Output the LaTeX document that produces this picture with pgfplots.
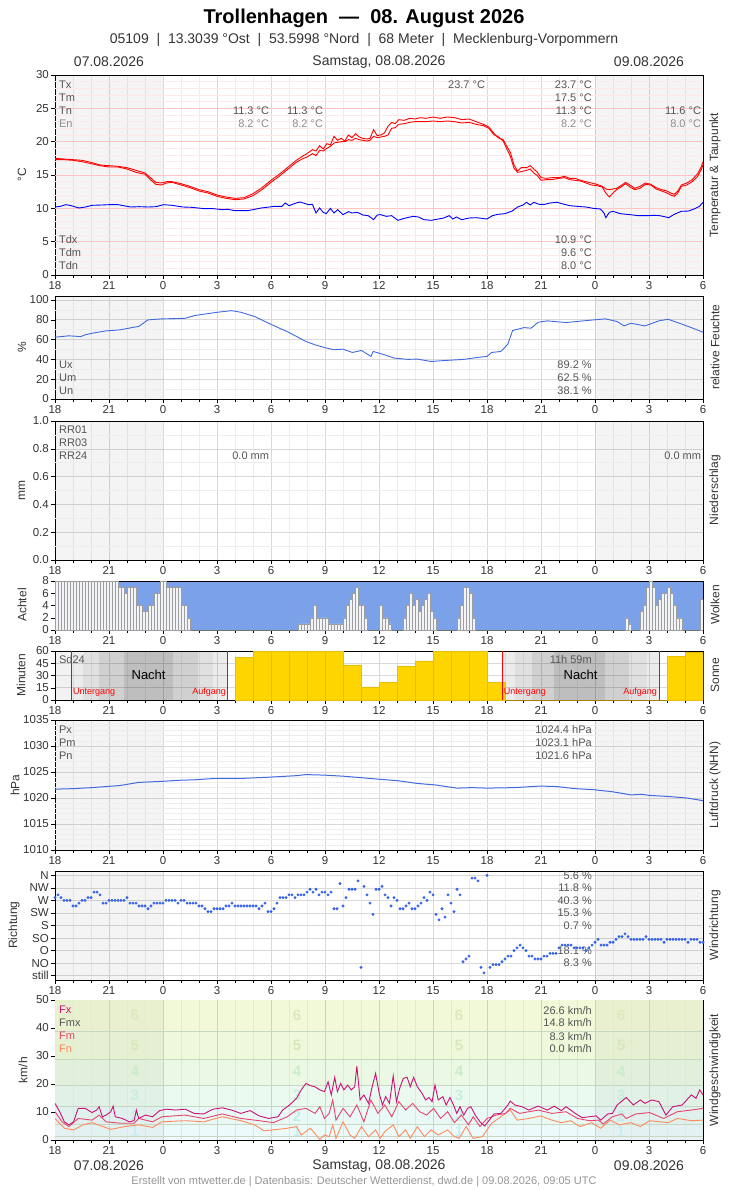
\documentclass[border=0pt]{standalone}
\usepackage{fontspec}
\setmainfont{Liberation Sans}
\setsansfont{Liberation Sans}
\usepackage{pgfplots}
\pgfplotsset{compat=1.18}
\newcommand\fs[1]{\fontsize{#1}{#1}\selectfont}

\definecolor{gmaj}{HTML}{D9D9D9}
\definecolor{gmin}{HTML}{EDEDED}
\definecolor{pmaj}{HTML}{FFC4C4}
\definecolor{pmin}{HTML}{FFE8E8}
\definecolor{txt}{HTML}{555555}
\definecolor{lab}{HTML}{333333}
\definecolor{royal}{HTML}{4169E1}
\definecolor{dotblue}{HTML}{3462E8}
\definecolor{cloudblue}{HTML}{7BA2E8}
\definecolor{cloudbar}{HTML}{F2F4F7}
\definecolor{sun}{HTML}{FFD500}
\definecolor{sunedge}{HTML}{E8BE00}
\definecolor{fxc}{HTML}{CC1177}
\definecolor{fmc}{HTML}{E8456E}
\definecolor{fnc}{HTML}{FF8A5C}
\definecolor{bz}{HTML}{F0FAFC}
\definecolor{bi}{HTML}{EDFAFA}
\definecolor{bii}{HTML}{E9F9F5}
\definecolor{biii}{HTML}{EAFAEF}
\definecolor{biv}{HTML}{EBF9E4}
\definecolor{bv}{HTML}{EEF8DA}
\definecolor{bvi}{HTML}{F2F9D8}
\definecolor{bline}{HTML}{C6D8C4}
\definecolor{vmaj}{HTML}{CFCFCF}
\definecolor{vmin}{HTML}{E2E6E2}
\definecolor{ki}{HTML}{C8EEF4}
\definecolor{kii}{HTML}{C4ECE4}
\definecolor{kiii}{HTML}{C6EEDC}
\definecolor{kiv}{HTML}{C8ECCC}
\definecolor{kv}{HTML}{D8E8BC}
\definecolor{kvi}{HTML}{DDE8BE}

% shaded time span (translucent, so the grid stays visible)
\newcommand\tspan[4]{\addplot[ybar interval, fill=black, fill opacity=#4, draw=none, forget plot] coordinates {(#1,#3)(#2,#3)};}
% opaque band from 0 up to #3
\newcommand\bandfill[4]{\addplot[ybar interval, fill=#4, draw=none, forget plot] coordinates {(#1,#3)(#2,#3)};}
% horizontal reference line
\newcommand\refline[3]{\addplot[#3, line width=0.5pt, forget plot] coordinates {(0,#1)(#2,#1)};}
% vertical hour line
\newcommand\hourline[3]{\addplot[#3, line width=0.55pt, forget plot] coordinates {(#1,0)(#1,#2)};}

\tikzset{
  leg/.style={anchor=west, font=\fs{11}, text=txt, inner sep=0pt},
  val/.style={anchor=east, font=\fs{11}, text=txt, inner sep=0pt},
  bft/.style={font=\fs{15}\bfseries},
}
\pgfplotsset{
  panel/.style={
    scale only axis, width=648pt,
    xmin=0, xmax=36,
    xtick={0,3,...,36},
    xticklabels={18,21,0,3,6,9,12,15,18,21,0,3,6},
    minor xtick={0,1,...,36},
    tick align=outside, xtick pos=left, ytick pos=left,
    major tick length=4pt, minor tick length=2.5pt,
    tick style={black, line width=0.5pt},
    ticklabel style={font=\fs{11.5}, text=lab},
    xticklabel style={anchor=north, inner sep=1.5pt, text height=8.3pt, text depth=0pt},
    yticklabel style={inner sep=2pt},
    grid=both,
    major grid style={draw=gmaj, line width=0.6pt},
    minor grid style={draw=gmin, line width=0.5pt},
    axis line style={black, line width=0.8pt},
    /pgf/number format/assume math mode=true,
    /pgf/number format/1000 sep={},
  },
  tenmin/.style={
    xmin=0, xmax=216,
    xtick={0,18,...,216},
    minor xtick={0,6,...,216},
  },
}

\begin{document}
\begin{tikzpicture}
\useasboundingbox (0,0) rectangle (728pt,-1190pt);

% header
\node[font=\fs{20}\bfseries] at (364pt,-18pt) {Trollenhagen~~—~~08. August 2026};
\node[font=\fs{14}, text=lab] at (364pt,-40pt) {05109~~|~~13.3039 °Ost~~|~~53.5998 °Nord~~|~~68 Meter~~|~~Mecklenburg-Vorpommern};
\foreach \yy in {62,1166} {
  \node[font=\fs{14}, text=lab] at (109pt,-\yy pt) {07.08.2026};
  \node[font=\fs{14}, text=lab] at (379pt,-\yy pt) {Samstag, 08.08.2026};
  \node[font=\fs{14}, text=lab] at (649pt,-\yy pt) {09.08.2026};
}
\node[font=\fs{11}, text=black!42] at (364pt,-1182pt) {Erstellt von mtwetter.de | Datenbasis: Deutscher Wetterdienst, dwd.de | 09.08.2026, 09:05 UTC};

% side labels
\foreach \xx/\yy/\lbl in {22/175/°C, 22/347/\%, 22/490/mm, 22/605/Achtel, 21/675/Minuten, 15/785/hPa, 14/925/Richtung, 23/1070/{km/h}}
  \node[rotate=90, font=\fs{12}, text=lab] at (\xx pt,-\yy pt) {\lbl};
\foreach \yy/\lbl in {175/Temperatur \& Taupunkt, 347/relative Feuchte, 490/Niederschlag, 605/Wolken, 675/Sonne, 785/Luftdruck (NHN), 925/Windrichtung, 1070/Windgeschwindigkeit}
  \node[rotate=90, font=\fs{12}, text=lab] at (715pt,-\yy pt) {\lbl};

%================ temperature
\begin{axis}[panel, at={(55pt,-275pt)}, anchor=south west, height=200pt,
  ymin=0, ymax=30, ytick={0,5,...,30}, ymajorgrids=false]
\tspan{0}{6}{30}{0.045}
\tspan{30}{36}{30}{0.045}
\pgfplotsinvokeforeach{1,2,3,4,6,7,8,9,11,12,13,14,16,17,18,19,21,22,23,24,26,27,28,29}{\refline{#1}{36}{pmin}}
\pgfplotsinvokeforeach{5,10,15,20,25}{\refline{#1}{36}{pmaj}}
\addplot[red, line width=0.9pt] coordinates {
(0,17.5)(0.5,17.4)(1,17.3)(1.5,17.2)(2,16.9)(2.5,16.5)(3,16.4)(3.5,16.3)(4,16.1)(4.5,15.7)
(5,15.3)(5.3,14.6)(5.6,13.9)(5.9,13.8)(6.2,14.0)(6.5,14.0)(7,13.7)(7.5,13.3)(8,12.8)(8.5,12.5)
(9,12.0)(9.5,11.7)(10,11.5)(10.5,11.6)(11,12.2)(11.5,13.1)(12,14.2)(12.5,15.2)(13,16.3)(13.4,17.2)
(13.8,17.9)(14,18.2)(14.3,18.8)(14.5,18.6)(14.7,19.4)(14.9,18.9)(15.1,19.7)(15.3,19.5)(15.5,20.8)(15.7,20.2)
(15.9,20.5)(16.1,20.1)(16.3,21.0)(16.5,20.6)(16.7,21.2)(16.9,20.7)(17.1,20.5)(17.3,20.4)(17.5,20.5)(17.7,21.8)
(17.9,20.9)(18.1,21.0)(18.3,21.3)(18.5,22.3)(18.7,22.9)(18.9,22.7)(19.1,23.3)(19.4,23.2)(19.7,23.5)(20,23.4)
(20.3,23.6)(20.6,23.5)(21,23.7)(21.4,23.5)(21.8,23.7)(22.2,23.6)(22.6,23.3)(23,23.4)(23.4,23.0)(23.8,22.6)
(24.1,22.2)(24.4,21.2)(24.6,20.6)(24.9,20.3)(25.1,19.3)(25.3,18.4)(25.5,16.5)(25.7,15.6)(25.9,16.1)(26.2,16.1)
(26.4,16.4)(26.6,15.9)(26.8,15.4)(27,14.6)(27.3,14.5)(27.6,14.6)(28,14.6)(28.3,14.8)(28.6,14.5)(28.9,14.5)
(29.2,14.2)(29.5,14.0)(29.8,13.8)(30.1,13.6)(30.4,13.3)(30.6,12.9)(30.8,12.8)(31,12.9)(31.2,13.0)(31.5,13.5)
(31.7,13.9)(32,13.4)(32.2,13.0)(32.5,13.3)(32.8,13.8)(33.1,13.6)(33.4,13.1)(33.7,12.8)(34,12.6)(34.2,12.3)
(34.4,12.1)(34.6,12.6)(34.8,13.5)(35.1,13.8)(35.4,14.3)(35.7,15.2)(35.9,16.2)(36,17.0)};
\addplot[red, line width=0.9pt] coordinates {
(0,17.3)(0.5,17.3)(1,17.2)(1.5,17.0)(2,16.7)(2.5,16.4)(3,16.2)(3.5,16.2)(4,15.9)(4.5,15.4)
(5,15.1)(5.3,14.3)(5.6,13.6)(5.9,13.5)(6.2,13.8)(6.5,13.9)(7,13.5)(7.5,13.1)(8,12.6)(8.5,12.3)
(9,11.8)(9.5,11.5)(10,11.3)(10.5,11.4)(11,11.9)(11.5,12.8)(12,13.9)(12.5,14.9)(13,16.0)(13.4,16.9)
(13.8,17.5)(14,17.7)(14.3,18.2)(14.5,17.9)(14.7,18.7)(14.9,18.6)(15.1,19.0)(15.3,19.3)(15.5,19.8)(15.7,19.9)
(15.9,20.0)(16.1,20.0)(16.3,20.3)(16.5,20.2)(16.7,20.5)(16.9,20.3)(17.1,20.2)(17.3,20.1)(17.5,20.2)(17.7,20.8)
(17.9,20.6)(18.1,20.7)(18.3,20.8)(18.5,21.0)(18.7,22.0)(18.9,22.1)(19.1,22.6)(19.4,22.7)(19.7,22.9)(20,23.0)
(20.3,23.0)(20.6,23.0)(21,23.1)(21.4,23.0)(21.8,23.1)(22.2,23.0)(22.6,22.8)(23,22.9)(23.4,22.6)(23.8,22.4)
(24.1,22.0)(24.4,21.0)(24.6,20.8)(24.9,20.1)(25.1,18.9)(25.3,17.8)(25.5,16.0)(25.7,15.4)(25.9,15.5)(26.2,15.7)
(26.4,15.9)(26.6,15.3)(26.8,14.9)(27,14.2)(27.3,14.3)(27.6,14.3)(28,14.5)(28.3,14.6)(28.6,14.3)(28.9,14.2)
(29.2,14.1)(29.5,13.8)(29.8,13.5)(30.1,13.4)(30.4,13.2)(30.6,12.3)(30.8,11.7)(31,12.3)(31.2,12.8)(31.5,13.3)
(31.7,13.7)(32,13.1)(32.2,12.8)(32.5,13.0)(32.8,13.6)(33.1,13.5)(33.4,12.9)(33.7,12.6)(34,12.3)(34.2,12.0)
(34.4,11.8)(34.6,12.3)(34.8,13.3)(35.1,13.5)(35.4,14.0)(35.7,14.8)(35.9,15.8)(36,16.5)};
\addplot[blue, line width=0.9pt] coordinates {
(0,10.2)(0.3,10.3)(0.6,10.55)(0.9,10.4)(1.33,10.05)(1.7,10.2)(2.05,10.45)(2.6,10.5)(3,10.55)(3.5,10.55)
(3.8,10.4)(4.2,10.2)(4.7,10.25)(5.2,10.2)(5.6,10.25)(6.03,10.55)(6.5,10.45)(7.1,10.2)(7.6,10.15)(8.3,9.95)
(8.8,9.95)(9.3,9.8)(9.6,9.85)(10,9.65)(10.7,9.65)(11,9.8)(11.45,10.05)(12.2,10.3)(12.6,10.3)(12.8,10.8)
(13,10.4)(13.4,10.8)(13.6,10.95)(14.1,10.55)(14.3,10.6)(14.5,9.3)(14.7,10.05)(14.9,9.4)(15.07,9.2)(15.3,10.0)
(15.5,9.3)(15.7,9.8)(16,9.05)(16.3,9.5)(16.5,9.3)(16.8,9.4)(17.1,9.0)(17.4,8.9)(17.7,8.3)(17.9,9.0)
(18.1,9.05)(18.4,8.8)(18.7,8.9)(19.05,8.2)(19.4,8.5)(19.9,8.8)(20.2,8.7)(20.5,8.3)(20.9,8.2)(21.3,8.4)
(21.6,8.55)(21.9,8.9)(22.1,8.4)(22.3,8.7)(22.6,8.3)(23,8.55)(23.4,8.6)(23.7,8.5)(24,8.4)(24.3,8.9)
(24.6,9.1)(25,9.2)(25.4,9.6)(25.7,10.2)(26,10.5)(26.2,10.9)(26.4,10.5)(26.6,10.9)(26.9,10.6)(27.2,10.6)
(27.5,10.8)(27.9,10.9)(28.3,10.6)(28.6,10.4)(29,10.3)(29.5,10.2)(29.9,10.0)(30.3,9.9)(30.5,9.3)(30.6,8.6)
(30.8,9.4)(31,9.55)(31.4,9.2)(31.95,9.05)(32.4,8.9)(32.9,8.9)(33.3,8.95)(33.6,8.9)(34.1,8.6)(34.4,9.1)
(34.8,9.55)(35.2,9.6)(35.5,9.9)(35.8,10.3)(36,10.9)};
\node[leg] at (axis cs:0.22,28.5) {Tx};
\node[leg] at (axis cs:0.22,26.55) {Tm};
\node[leg] at (axis cs:0.22,24.6) {Tn};
\node[leg, text=black!45] at (axis cs:0.22,22.65) {En};
\node[val] at (axis cs:23.9,28.5) {23.7 °C};
\node[val] at (axis cs:29.83,28.5) {23.7 °C};
\node[val] at (axis cs:29.83,26.55) {17.5 °C};
\node[val] at (axis cs:11.9,24.6) {11.3 °C};
\node[val] at (axis cs:14.9,24.6) {11.3 °C};
\node[val] at (axis cs:29.83,24.6) {11.3 °C};
\node[val] at (axis cs:35.9,24.6) {11.6 °C};
\node[val, text=black!45] at (axis cs:11.9,22.65) {8.2 °C};
\node[val, text=black!45] at (axis cs:14.9,22.65) {8.2 °C};
\node[val, text=black!45] at (axis cs:29.83,22.65) {8.2 °C};
\node[val, text=black!45] at (axis cs:35.9,22.65) {8.0 °C};
\node[leg] at (axis cs:0.22,5.25) {Tdx};
\node[leg] at (axis cs:0.22,3.3) {Tdm};
\node[leg] at (axis cs:0.22,1.35) {Tdn};
\node[val] at (axis cs:29.83,5.25) {10.9 °C};
\node[val] at (axis cs:29.83,3.3) {9.6 °C};
\node[val] at (axis cs:29.83,1.35) {8.0 °C};
\end{axis}

%================ humidity
\begin{axis}[panel, at={(55pt,-399pt)}, anchor=south west, height=103pt,
  ymin=0, ymax=104, ytick={0,20,...,100}]
\tspan{0}{6}{104}{0.045}
\tspan{30}{36}{104}{0.045}
\pgfplotsinvokeforeach{10,30,50,70,90}{\refline{#1}{36}{gmin}}
\addplot[royal, line width=0.9pt] coordinates {
(0,62.4)(0.77,63.8)(1.42,63.0)(1.68,64.8)(2.06,66.4)(2.84,68.8)(3.61,69.8)(4.39,72.5)(4.65,73.2)(5.16,79.9)
(5.94,80.9)(7.23,81.5)(7.74,84.2)(8.26,85.6)(9.03,87.6)(9.81,89.2)(10.32,87.6)(11.1,83.2)(11.87,76.5)(12.39,72.1)
(12.9,68.1)(13.42,63.1)(13.94,58.1)(14.45,54.7)(14.97,52.0)(15.48,49.7)(16,50.3)(16.52,47.0)(17.03,49.0)(17.55,43.0)
(17.68,48.0)(18.32,44.6)(18.84,41.3)(19.61,40.0)(20.13,40.3)(20.9,37.9)(21.68,38.9)(22.71,40.0)(23.48,42.0)(24,43.0)
(24.26,47.0)(24.77,48.0)(25.16,55.4)(25.42,69.1)(26.06,72.1)(26.45,71.5)(26.84,77.5)(27.35,78.9)(28.39,77.2)(29.94,79.9)
(30.58,80.9)(31.23,78.2)(31.61,73.8)(32,76.5)(32.77,73.8)(33.55,78.9)(34.06,80.5)(34.84,75.5)(35.35,72.1)(36,67.4)};
\node[leg] at (axis cs:0.22,34.3) {Ux};
\node[leg] at (axis cs:0.22,21.2) {Um};
\node[leg] at (axis cs:0.22,8.1) {Un};
\node[val] at (axis cs:29.83,34.3) {89.2 \%};
\node[val] at (axis cs:29.83,21.2) {62.5 \%};
\node[val] at (axis cs:29.83,8.1) {38.1 \%};
\end{axis}

%================ precipitation
\begin{axis}[panel, at={(55pt,-560pt)}, anchor=south west, height=139pt,
  ymin=0, ymax=1, ytick={0,0.2,0.4,0.6,0.8,1},
  yticklabel style={/pgf/number format/.cd, fixed, fixed zerofill, precision=1}]
\tspan{0}{6}{1}{0.045}
\tspan{30}{36}{1}{0.045}
\pgfplotsinvokeforeach{0.1,0.3,0.5,0.7,0.9}{\refline{#1}{36}{gmin}}
\node[leg] at (axis cs:0.22,0.935) {RR01};
\node[leg] at (axis cs:0.22,0.842) {RR03};
\node[leg] at (axis cs:0.22,0.748) {RR24};
\node[val] at (axis cs:11.9,0.748) {0.0 mm};
\node[val] at (axis cs:35.9,0.748) {0.0 mm};
\end{axis}

%================ clouds (x in 10-minute steps)
\begin{axis}[panel, tenmin, at={(55pt,-630pt)}, anchor=south west, height=49pt,
  ymin=0, ymax=8, ytick={0,2,4,6,8}, grid=none,
  axis background/.style={fill=cloudblue}]
\addplot[ybar interval, fill=cloudbar, draw=black!38, line width=0.4pt] coordinates {
(0,8)(1,8)(2,8)(3,8)(4,8)(5,8)(6,8)(7,8)(8,8)(9,8)(10,8)(11,8)(12,8)(13,8)(14,8)(15,8)(16,8)(17,8)(18,8)(19,8)(20,8)
(21,7)(22,7)(23,6)(24,7)(25,7)(26,7)(27,4)(28,4)(29,3)(30,3)(31,4)(32,4)(33,6)(34,6)(35,8)(36,8)(37,7)(38,7)(39,7)(40,7)(41,7)(42,4)(43,4)(44,2)
(45,0)(81,1)(82,1)(83,1)(84,1)(85,2)(86,4)(87,2)(88,2)(89,2)(90,2)(91,1)(92,1)(93,1)(94,1)(95,1)
(96,2)(97,4)(98,5)(99,6)(100,7)(101,4)(102,4)(103,2)(104,0)(108,4)(109,2)(110,2)(111,1)(112,0)
(116,2)(117,4)(118,6)(119,4)(120,5)(121,3)(122,4)(123,5)(124,6)(125,3)(126,2)(127,0)
(134,2)(135,4)(136,7)(137,7)(138,6)(139,2)(140,0)(190,2)(191,1)(192,0)
(195,3)(196,4)(197,7)(198,8)(199,7)(200,4)(201,5)(202,6)(203,6)(204,7)(205,6)(206,4)(207,2)(208,2)(209,0)
(215,5)(216,5)};
\end{axis}

%================ sunshine
\begin{axis}[panel, at={(55pt,-700pt)}, anchor=south west, height=49pt,
  ymin=0, ymax=60, ytick={0,15,30,45,60}]
\tspan{0}{0.9}{60}{0.05}
\tspan{0.9}{1.55}{60}{0.075}
\tspan{1.55}{2.45}{60}{0.12}
\tspan{2.45}{3.81}{60}{0.185}
\tspan{3.81}{6.58}{60}{0.255}
\tspan{6.58}{7.95}{60}{0.185}
\tspan{7.95}{8.77}{60}{0.12}
\tspan{8.77}{9.6}{60}{0.075}
\tspan{24.83}{25.55}{60}{0.075}
\tspan{25.55}{26.5}{60}{0.12}
\tspan{26.5}{27.74}{60}{0.185}
\tspan{27.74}{30.58}{60}{0.255}
\tspan{30.58}{31.87}{60}{0.185}
\tspan{31.87}{32.9}{60}{0.12}
\tspan{32.9}{33.55}{60}{0.075}
\addplot[ybar interval, fill=sun, draw=sunedge, line width=0.5pt] coordinates {
(10,52)(11,60)(12,60)(13,60)(14,60)(15,60)(16,43)(17,16)(18,22)(19,41)(20,48)(21,60)(22,60)(23,60)
(24,22)(25,0)(34,53)(35,58)(36,58)};
\addplot[red, line width=0.8pt] coordinates {(0.9,0)(0.9,60)};
\addplot[red, line width=0.8pt] coordinates {(9.6,0)(9.6,60)};
\addplot[red, line width=0.8pt] coordinates {(24.83,0)(24.83,60)};
\addplot[red, line width=0.8pt] coordinates {(33.55,0)(33.55,60)};
\node[leg] at (axis cs:0.22,49) {Sd24};
\node[val] at (axis cs:29.83,49) {11h 59m};
\node[font=\fs{13}] at (axis cs:5.2,30.6) {Nacht};
\node[font=\fs{13}] at (axis cs:29.2,30.6) {Nacht};
\node[anchor=west, font=\fs{9}, text=red, inner sep=0pt] at (axis cs:1.0,9.8) {Untergang};
\node[anchor=east, font=\fs{9}, text=red, inner sep=0pt] at (axis cs:9.5,9.8) {Aufgang};
\node[anchor=west, font=\fs{9}, text=red, inner sep=0pt] at (axis cs:24.93,9.8) {Untergang};
\node[anchor=east, font=\fs{9}, text=red, inner sep=0pt] at (axis cs:33.45,9.8) {Aufgang};
\end{axis}

%================ pressure
\begin{axis}[panel, at={(55pt,-850pt)}, anchor=south west, height=130pt,
  ymin=1010, ymax=1035, ytick={1010,1015,...,1035}]
\tspan{0}{6}{1035}{0.045}
\tspan{30}{36}{1035}{0.045}
\pgfplotsinvokeforeach{1011,1012,1013,1014,1016,1017,1018,1019,1021,1022,1023,1024,1026,1027,1028,1029,1031,1032,1033,1034}{\refline{#1}{36}{gmin}}
\addplot[royal, line width=1pt] coordinates {
(0,1021.7)(1,1021.8)(2.06,1022.0)(3.61,1022.4)(4.65,1023.0)(5.94,1023.2)(6.8,1023.4)(7.74,1023.5)(9.03,1023.8)(10.58,1023.8)
(11.87,1024.0)(13.42,1024.3)(13.94,1024.5)(14.97,1024.4)(16,1024.2)(17.03,1023.9)(18.06,1023.6)(19.1,1023.3)(20.13,1022.8)(21.16,1022.5)
(22.32,1021.9)(23.2,1022.0)(24,1021.9)(25.55,1022.0)(26.97,1022.3)(27.87,1022.2)(28.9,1021.8)(29.94,1021.6)(30.97,1021.2)(32,1020.6)
(32.6,1020.7)(33.03,1020.5)(34.06,1020.3)(35.1,1020.0)(36,1019.5)};
\node[leg] at (axis cs:0.22,1033.1) {Px};
\node[leg] at (axis cs:0.22,1030.6) {Pm};
\node[leg] at (axis cs:0.22,1028.1) {Pn};
\node[val] at (axis cs:29.83,1033.1) {1024.4 hPa};
\node[val] at (axis cs:29.83,1030.6) {1023.1 hPa};
\node[val] at (axis cs:29.83,1028.1) {1021.6 hPa};
\end{axis}

%================ wind direction (x in 10-minute steps)
\begin{axis}[panel, tenmin, at={(55pt,-980pt)}, anchor=south west, height=109pt,
  ymin=-15.4, ymax=375.4, ytick={0,45,...,360},
  yticklabels={still,NO,O,SO,S,SW,W,NW,N}]
\tspan{0}{36}{375.4}{0.045}
\tspan{0}{36}{-15.4}{0.045}
\tspan{180}{216}{375.4}{0.045}
\tspan{180}{216}{-15.4}{0.045}
\addplot[only marks, mark=*, mark size=1.25pt, dotblue, mark options={draw=none, fill=dotblue}] coordinates {
(0,280)(1,290)(2,280)(3,270)(4,270)(5,270)(6,250)(7,250)(8,260)(9,270)
(10,270)(11,280)(12,280)(13,300)(14,300)(15,290)(16,260)(17,260)(18,270)(19,270)
(20,270)(21,270)(22,270)(23,270)(24,280)(25,260)(26,260)(27,260)(28,250)(29,250)
(30,250)(31,240)(32,250)(33,260)(34,260)(35,260)(36,260)(37,270)(38,270)(39,270)
(40,270)(41,260)(42,270)(43,270)(44,260)(45,260)(46,260)(47,260)(48,250)(49,250)
(50,240)(51,230)(52,230)(53,240)(54,240)(55,240)(56,240)(57,250)(58,250)(59,260)
(60,250)(61,250)(62,250)(63,250)(64,250)(65,250)(66,250)(67,250)(68,240)(69,250)
(70,260)(71,230)(72,230)(73,240)(74,260)(75,280)(76,280)(77,280)(78,290)(79,290)
(80,280)(81,290)(82,290)(83,290)(84,300)(85,310)(86,300)(87,310)(88,290)(89,300)
(90,300)(91,290)(92,300)(93,240)(94,240)(95,330)(96,250)(97,280)(98,310)(99,310)
(100,310)(101,340)(102,30)(103,320)(104,290)(105,260)(106,220)(107,310)(108,310)(109,320)
(110,290)(111,280)(112,250)(113,280)(114,270)(115,240)(116,240)(117,250)(118,260)(119,240)
(120,240)(121,250)(122,260)(123,280)(124,270)(125,300)(126,290)(127,220)(128,200)(129,240)
(130,210)(131,290)(132,260)(133,230)(134,310)(135,290)(136,50)(137,60)(138,70)(139,350)
(140,350)(141,340)(142,30)(143,10)(144,360)(145,30)(146,40)(147,40)(148,40)(149,50)
(150,60)(151,70)(152,70)(153,90)(154,100)(155,110)(156,100)(157,90)(158,70)(159,70)
(160,60)(161,60)(162,60)(163,70)(164,70)(165,80)(166,80)(167,80)(168,100)(169,110)
(170,110)(171,110)(172,110)(173,100)(174,100)(175,100)(176,100)(177,90)(178,100)(179,110)
(180,120)(181,130)(182,110)(183,110)(184,110)(185,120)(186,120)(187,130)(188,140)(189,140)
(190,150)(191,140)(192,130)(193,130)(194,130)(195,130)(196,130)(197,140)(198,130)(199,130)
(200,130)(201,130)(202,130)(203,120)(204,130)(205,130)(206,130)(207,130)(208,130)(209,130)
(210,130)(211,120)(212,130)(213,130)(214,130)(215,120)(216,120)};
\node[val] at (axis cs:179,360) {5.6 \%};
\node[val] at (axis cs:179,315) {11.8 \%};
\node[val] at (axis cs:179,270) {40.3 \%};
\node[val] at (axis cs:179,225) {15.3 \%};
\node[val] at (axis cs:179,180) {0.7 \%};
\node[val] at (axis cs:179,90) {18.1 \%};
\node[val] at (axis cs:179,45) {8.3 \%};
\end{axis}

%================ wind speed
\begin{axis}[panel, at={(55pt,-1140pt)}, anchor=south west, height=140pt,
  ymin=0, ymax=50, ytick={0,10,...,50}, grid=none]
\bandfill{0}{36}{50}{bvi}
\bandfill{0}{36}{39}{bv}
\bandfill{0}{36}{28.8}{biv}
\bandfill{0}{36}{19.6}{biii}
\bandfill{0}{36}{12.1}{bii}
\bandfill{0}{36}{5.6}{bi}
\bandfill{0}{36}{1.2}{bz}
\tspan{0}{6}{50}{0.035}
\tspan{30}{36}{50}{0.035}
\pgfplotsinvokeforeach{1,2,4,5,7,8,10,11,13,14,16,17,19,20,22,23,25,26,28,29,31,32,34,35}{\hourline{#1}{50}{vmin}}
\pgfplotsinvokeforeach{3,6,9,12,15,18,21,24,27,30,33}{\hourline{#1}{50}{vmaj}}
\pgfplotsinvokeforeach{1.2,5.6,12.1,19.6,28.8,39}{\refline{#1}{36}{bline}}
\pgfplotsinvokeforeach{4.44,13.44,22.44,31.44}{
  \node[bft, text=kvi] at (axis cs:#1,44.6) {6};
  \node[bft, text=kv] at (axis cs:#1,33.9) {5};
  \node[bft, text=kiv] at (axis cs:#1,24.4) {4};
  \node[bft, text=kiii] at (axis cs:#1,16.1) {3};
  \node[bft, text=kii] at (axis cs:#1,8.6) {2};
  \node[bft, text=ki] at (axis cs:#1,3.0) {1};
}
\addplot[fnc, line width=0.9pt] coordinates {
(0,7.7)(0.52,4.2)(1.03,3.6)(1.55,5.4)(2.06,6.2)(2.58,5.0)(3.1,3.8)(3.87,4.8)(4.65,5.4)(5.42,4.5)
(5.94,6.5)(7.23,6.9)(8.26,6.5)(9.29,8.3)(10.32,6.9)(11.1,5.4)(11.61,3.3)(12.39,3.8)(12.9,4.2)(13.42,4.8)
(13.68,1.8)(14.19,4.2)(14.71,0.2)(14.97,1.8)(15.23,1.2)(15.43,5.4)(15.61,0.6)(16,6.5)(16.39,1.8)(16.65,0.6)
(17.03,4.8)(17.42,1.2)(17.81,3.6)(18.06,0.6)(18.32,3.0)(18.79,5.4)(19.1,1.2)(19.48,3.6)(19.74,0.6)(20.13,4.8)
(20.52,1.2)(20.9,3.6)(21.29,1.8)(21.81,3.6)(22.19,1.2)(22.45,0.6)(22.84,4.8)(23.23,0.6)(23.74,1.2)(24.26,6.0)
(24.77,8.3)(25.29,10.7)(25.68,7.1)(26.32,7.7)(26.97,8.6)(27.61,7.1)(28.13,6.2)(28.65,6.9)(29.16,4.8)(29.81,6.2)
(30.32,4.2)(30.84,7.1)(31.35,5.4)(32,6.2)(32.52,4.8)(33.03,6.9)(34.06,6.2)(34.58,7.7)(35.35,6.9)(36,7.1)};
\addplot[fmc, line width=0.9pt] coordinates {
(0,10.1)(0.39,6.5)(0.77,4.8)(1.29,7.7)(2.06,7.1)(2.45,8.9)(2.84,6.5)(3.61,6.0)(4.39,6.0)(4.65,7.7)
(5.42,6.5)(5.94,8.3)(7.23,8.9)(8.26,7.7)(9.29,9.3)(10.32,7.7)(11.35,6.9)(12.13,6.2)(12.9,8.3)(13.42,10.7)
(13.94,11.3)(14.45,9.5)(14.71,11.9)(14.97,7.7)(15.23,9.5)(15.43,14.3)(15.61,7.1)(16,11.3)(16.39,8.3)(16.77,12.5)
(17.16,6.5)(17.55,14.3)(17.94,9.5)(18.32,12.5)(18.71,8.3)(19.1,13.7)(19.48,10.7)(19.87,13.1)(20.26,10.1)(20.65,8.9)
(21.03,11.3)(21.42,7.7)(21.81,10.1)(22.19,6.2)(22.58,8.9)(22.97,5.4)(23.23,8.3)(23.61,4.8)(24,7.7)(24.52,8.9)
(25.03,9.5)(25.29,11.3)(25.81,9.5)(26.84,10.7)(27.61,9.5)(28.39,10.1)(29.03,7.7)(29.68,6.9)(30.19,7.1)(30.45,5.7)
(30.97,8.3)(31.48,9.3)(31.74,7.7)(32.26,9.3)(33.03,9.8)(33.81,7.7)(34.58,10.1)(35.35,10.7)(36,11.3)};
\addplot[fxc, line width=0.9pt] coordinates {
(0,13.1)(0.26,10.1)(0.52,6.5)(0.77,5.4)(1.03,6.5)(1.29,11.3)(1.68,11.3)(2.06,9.8)(2.32,10.7)(2.45,11.9)
(2.63,8.3)(2.84,8.9)(3.1,10.1)(3.23,12.1)(3.35,8.3)(3.74,7.7)(4.13,6.5)(4.39,6.9)(4.52,10.7)(4.65,7.7)
(5.03,8.9)(5.42,8.3)(5.81,10.5)(6.19,11.0)(6.71,10.7)(7.23,11.0)(7.74,9.5)(8.26,9.3)(8.77,11.0)(9.29,11.5)
(9.81,10.7)(10.32,9.5)(10.84,10.5)(11.35,8.6)(11.87,7.7)(12.39,8.3)(12.65,10.7)(13.03,12.5)(13.42,14.9)(13.68,17.9)
(13.94,20.2)(14.19,19.4)(14.45,19.0)(14.71,17.9)(14.97,17.3)(15.17,20.8)(15.35,16.1)(15.54,22.4)(15.69,17.3)(15.87,20.2)
(16.05,17.9)(16.26,19.6)(16.46,17.9)(16.65,19.0)(16.77,26.4)(16.95,14.3)(17.16,16.1)(17.42,13.1)(17.6,18.5)(17.81,23.8)
(18.01,16.7)(18.19,12.5)(18.37,15.5)(18.58,13.1)(18.79,22.9)(18.97,13.7)(19.15,18.5)(19.35,22.0)(19.56,22.4)(19.74,19.0)
(19.92,22.4)(20.13,19.0)(20.39,16.7)(20.59,14.3)(20.77,15.2)(20.95,13.7)(21.11,19.6)(21.29,14.3)(21.55,15.5)(21.73,12.5)
(21.94,15.2)(22.14,12.5)(22.32,9.5)(22.5,11.9)(22.71,8.9)(22.92,11.3)(23.1,11.9)(23.35,8.9)(23.61,6.5)(23.87,5.0)
(24.13,7.1)(24.39,9.3)(24.77,9.5)(25.16,12.5)(25.29,13.9)(25.55,12.5)(25.94,11.9)(26.32,10.7)(26.84,12.1)(27.35,10.7)
(27.74,12.1)(28.13,10.5)(28.39,11.9)(28.9,9.5)(29.29,8.0)(29.68,8.3)(30.06,8.6)(30.32,7.1)(30.71,9.3)(30.97,9.5)
(31.23,12.5)(31.74,15.2)(32.13,12.5)(32.52,14.3)(32.77,13.1)(33.16,14.3)(33.55,13.7)(33.94,8.9)(34.32,11.9)(34.84,12.5)
(35.35,16.1)(35.61,14.9)(35.82,17.9)(36,16.1)};
\node[leg, text=fxc] at (axis cs:0.22,46.4) {Fx};
\node[leg] at (axis cs:0.22,41.8) {Fmx};
\node[leg, text=fmc] at (axis cs:0.22,37.1) {Fm};
\node[leg, text=fnc] at (axis cs:0.22,32.5) {Fn};
\node[val] at (axis cs:29.83,46.4) {26.6 km/h};
\node[val] at (axis cs:29.83,41.8) {14.8 km/h};
\node[val] at (axis cs:29.83,37.1) {8.3 km/h};
\node[val] at (axis cs:29.83,32.5) {0.0 km/h};
\end{axis}
\end{tikzpicture}
\end{document}
